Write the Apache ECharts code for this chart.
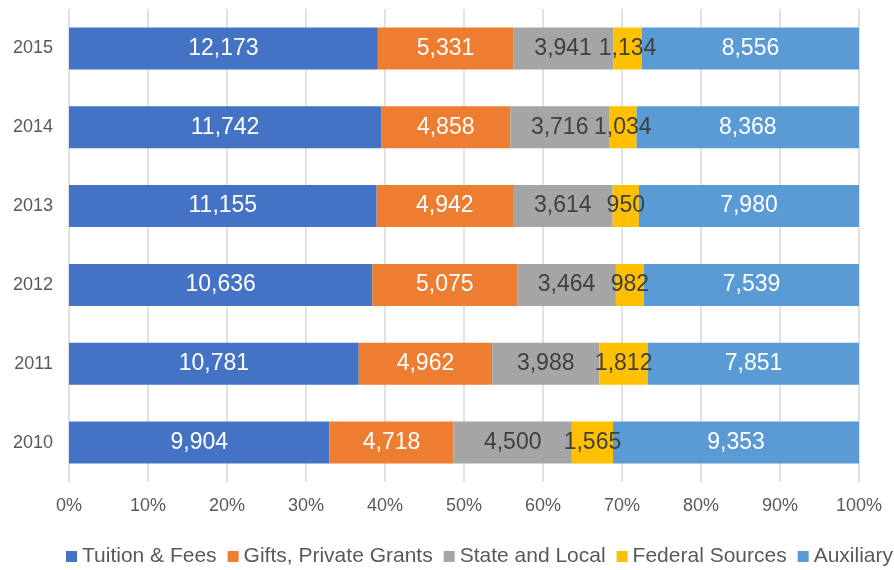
<!DOCTYPE html>
<html>
<head>
<meta charset="utf-8">
<script src="https://cdn.jsdelivr.net/npm/echarts@6/dist/echarts.min.js"></script>
<style>
  html, body { margin: 0; padding: 0; background: #fff; }
  #main { width: 894px; height: 570px; }
</style>
</head>
<body>
<div id="main"></div>
<script>
const years = ['2010', '2011', '2012', '2013', '2014', '2015'];
const tuition = [9904, 10781, 10636, 11155, 11742, 12173];
const gifts = [4718, 4962, 5075, 4942, 4858, 5331];
const stateLocal = [4500, 3988, 3464, 3614, 3716, 3941];
const federal = [1565, 1812, 982, 950, 1034, 1134];
const auxiliary = [9353, 7851, 7539, 7980, 8368, 8556];
const xTicks = [0, 10, 20, 30, 40, 50, 60, 70, 80, 90, 100];

const seriesDefs = [
  { name: 'Tuition & Fees', values: tuition, color: '#4472C4', labelColor: '#ffffff' },
  { name: 'Gifts, Private Grants', values: gifts, color: '#ED7D31', labelColor: '#ffffff' },
  { name: 'State and Local', values: stateLocal, color: '#A5A5A5', labelColor: '#404040' },
  { name: 'Federal Sources', values: federal, color: '#FFC000', labelColor: '#404040' },
  { name: 'Auxiliary', values: auxiliary, color: '#5B9BD5', labelColor: '#ffffff' }
];

// totals per year so each bar can be shown as share of 100%
const totals = years.map((y, i) => seriesDefs.reduce((s, d) => s + d.values[i], 0));

const chart = echarts.init(document.getElementById('main'));

const option = {
  animation: false,
  textStyle: { fontFamily: 'Liberation Sans' },
  grid: { left: 69, right: 35, top: 9, bottom: 88 },
  legend: {
    top: 546,
    left: 66,
    width: 900,
    padding: 0,
    itemWidth: 11,
    itemHeight: 11,
    itemGap: 11,
    icon: 'rect',
    textStyle: { fontSize: 21, color: '#595959', fontFamily: 'Liberation Sans' },
    data: seriesDefs.map(d => d.name)
  },
  xAxis: {
    type: 'value',
    min: xTicks[0],
    max: xTicks[xTicks.length - 1],
    interval: 10,
    axisLine: { show: false },
    axisTick: { show: false },
    axisLabel: { formatter: '{value}%', fontSize: 18, color: '#595959', margin: 15, fontFamily: 'Liberation Sans' },
    splitLine: { lineStyle: { color: '#D9D9D9', width: 1.5 } }
  },
  yAxis: {
    type: 'category',
    data: years,
    axisLine: { show: false },
    axisTick: { show: false },
    axisLabel: { fontSize: 18, color: '#595959', margin: 16, fontFamily: 'Liberation Sans' }
  },
  series: seriesDefs.map(d => ({
    name: d.name,
    type: 'bar',
    stack: 'total',
    barWidth: 42,
    itemStyle: { color: d.color },
    label: {
      show: true,
      position: 'inside',
      fontSize: 23,
      fontFamily: 'Liberation Sans',
      color: d.labelColor,
      formatter: p => d.values[p.dataIndex].toLocaleString('en-US')
    },
    data: d.values.map((v, i) => v / totals[i] * 100)
  }))
};

chart.setOption(option);
</script>
</body>
</html>
